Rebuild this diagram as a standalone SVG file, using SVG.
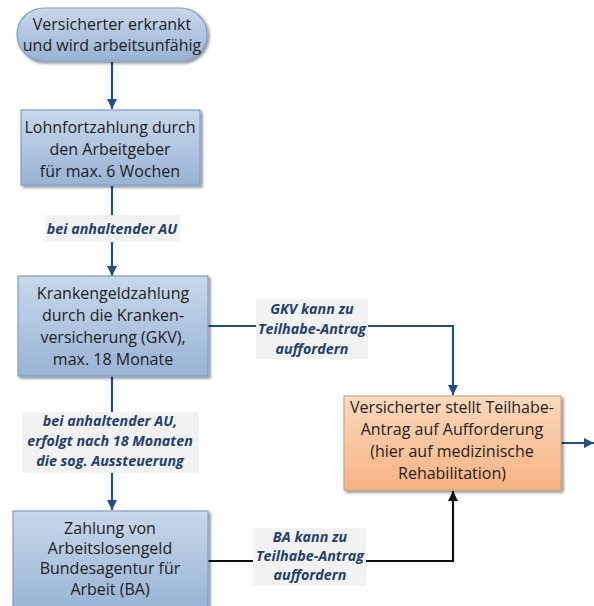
<svg xmlns="http://www.w3.org/2000/svg" width="594" height="606" viewBox="0 0 594 606">
<defs>
<linearGradient id="gBlue" x1="0" y1="0" x2="0" y2="1">
<stop offset="0" stop-color="#c9d8ea"/>
<stop offset="1" stop-color="#98b3d5"/>
</linearGradient>
<linearGradient id="gOrange" x1="0" y1="0" x2="0" y2="1">
<stop offset="0" stop-color="#fcd9bd"/>
<stop offset="1" stop-color="#f6b282"/>
</linearGradient>
<filter id="sh" x="-10%" y="-10%" width="130%" height="130%">
<feGaussianBlur in="SourceAlpha" stdDeviation="1.5"/>
<feOffset dx="2" dy="2" result="b"/>
<feComponentTransfer><feFuncA type="linear" slope="0.45"/></feComponentTransfer>
<feMerge><feMergeNode/><feMergeNode in="SourceGraphic"/></feMerge>
</filter>
<marker id="aBlue" markerWidth="12" markerHeight="12" refX="10" refY="5" orient="auto" markerUnits="userSpaceOnUse">
<path d="M0,0 L10,5 L0,10 Z" fill="#1f4e8a"/>
</marker>
<marker id="aBlack" markerWidth="12" markerHeight="12" refX="10" refY="5" orient="auto" markerUnits="userSpaceOnUse">
<path d="M0,0 L10,5 L0,10 Z" fill="#111"/>
</marker>
</defs>
<style>
.blue{fill:url(#gBlue);stroke:#7e9fc8;stroke-width:1.2;filter:url(#sh)}
.orange{fill:url(#gOrange);stroke:#c9a88c;stroke-width:1.2;filter:url(#sh)}
.t{font-family:"Open Sans","Liberation Sans",sans-serif;font-size:16px;fill:#1e1e1e;text-anchor:middle}
.lbl{font-family:"Open Sans","Liberation Sans",sans-serif;font-size:14.3px;font-weight:bold;font-style:italic;fill:#1f3f6e;text-anchor:middle}
.lbg{fill:#f2f2f2}
.cb{stroke:#1f4e8a;stroke-width:2.2;fill:none}
.ck{stroke:#111;stroke-width:2.2;fill:none}
</style>
<g id="connectors">
<line class="cb" x1="112" y1="62" x2="112" y2="109" marker-end="url(#aBlue)"/>
<line class="cb" x1="112" y1="186" x2="112" y2="276" marker-end="url(#aBlue)"/>
<line class="cb" x1="112" y1="376" x2="112" y2="510" marker-end="url(#aBlue)"/>
<polyline class="cb" points="208,326 453,326 453,395" marker-end="url(#aBlue)"/>
<line class="cb" x1="561" y1="443" x2="594" y2="443" marker-end="url(#aBlue)"/>
<polyline class="ck" points="208,561 453,561 453,491" marker-end="url(#aBlack)"/>
</g>
<g id="label1">
<rect class="lbg" x="45" y="215" width="135" height="27"/>
<text class="lbl" x="112" y="234">bei anhaltender AU</text>
</g>
<g id="label2">
<rect class="lbg" x="256" y="299" width="112" height="60"/>
<text class="lbl" x="312" y="314">GKV kann zu</text>
<text class="lbl" x="312" y="334">Teilhabe-Antrag</text>
<text class="lbl" x="312" y="354">auffordern</text>
</g>
<g id="label3">
<rect class="lbg" x="22" y="412" width="177" height="61"/>
<text class="lbl" x="110" y="426">bei anhaltender AU,</text>
<text class="lbl" x="110" y="446">erfolgt nach 18 Monaten</text>
<text class="lbl" x="110" y="466">die sog. Aussteuerung</text>
</g>
<g id="label4">
<rect class="lbg" x="253" y="528" width="113" height="58"/>
<text class="lbl" x="310" y="542">BA kann zu</text>
<text class="lbl" x="310" y="561">Teilhabe-Antrag</text>
<text class="lbl" x="310" y="580">auffordern</text>
</g>
<g id="n1">
<rect class="blue" x="17" y="8" width="190" height="53" rx="26.5"/>
<text class="t" x="112" y="30">Versicherter erkrankt</text>
<text class="t" x="112" y="51">und wird arbeitsunfähig</text>
</g>
<g id="n2">
<rect class="blue" x="21" y="110" width="179" height="75"/>
<text class="t" x="110" y="133">Lohnfortzahlung durch</text>
<text class="t" x="110" y="155">den Arbeitgeber</text>
<text class="t" x="110" y="177">für max. 6 Wochen</text>
</g>
<g id="n3">
<rect class="blue" x="18" y="276" width="190" height="100"/>
<text class="t" x="113" y="299">Krankengeldzahlung</text>
<text class="t" x="113" y="321">durch die Kranken-</text>
<text class="t" x="113" y="343">versicherung (GKV),</text>
<text class="t" x="113" y="365">max. 18 Monate</text>
</g>
<g id="n4">
<rect class="orange" x="344" y="396" width="217" height="94"/>
<text class="t" x="452" y="413">Versicherter stellt Teilhabe-</text>
<text class="t" x="452" y="435">Antrag auf Aufforderung</text>
<text class="t" x="452" y="457">(hier auf medizinische</text>
<text class="t" x="452" y="479">Rehabilitation)</text>
</g>
<g id="n5">
<rect class="blue" x="13" y="511" width="195" height="100"/>
<text class="t" x="110" y="534">Zahlung von</text>
<text class="t" x="110" y="554">Arbeitslosengeld</text>
<text class="t" x="110" y="574">Bundesagentur für</text>
<text class="t" x="110" y="595">Arbeit (BA)</text>
</g>
</svg>
